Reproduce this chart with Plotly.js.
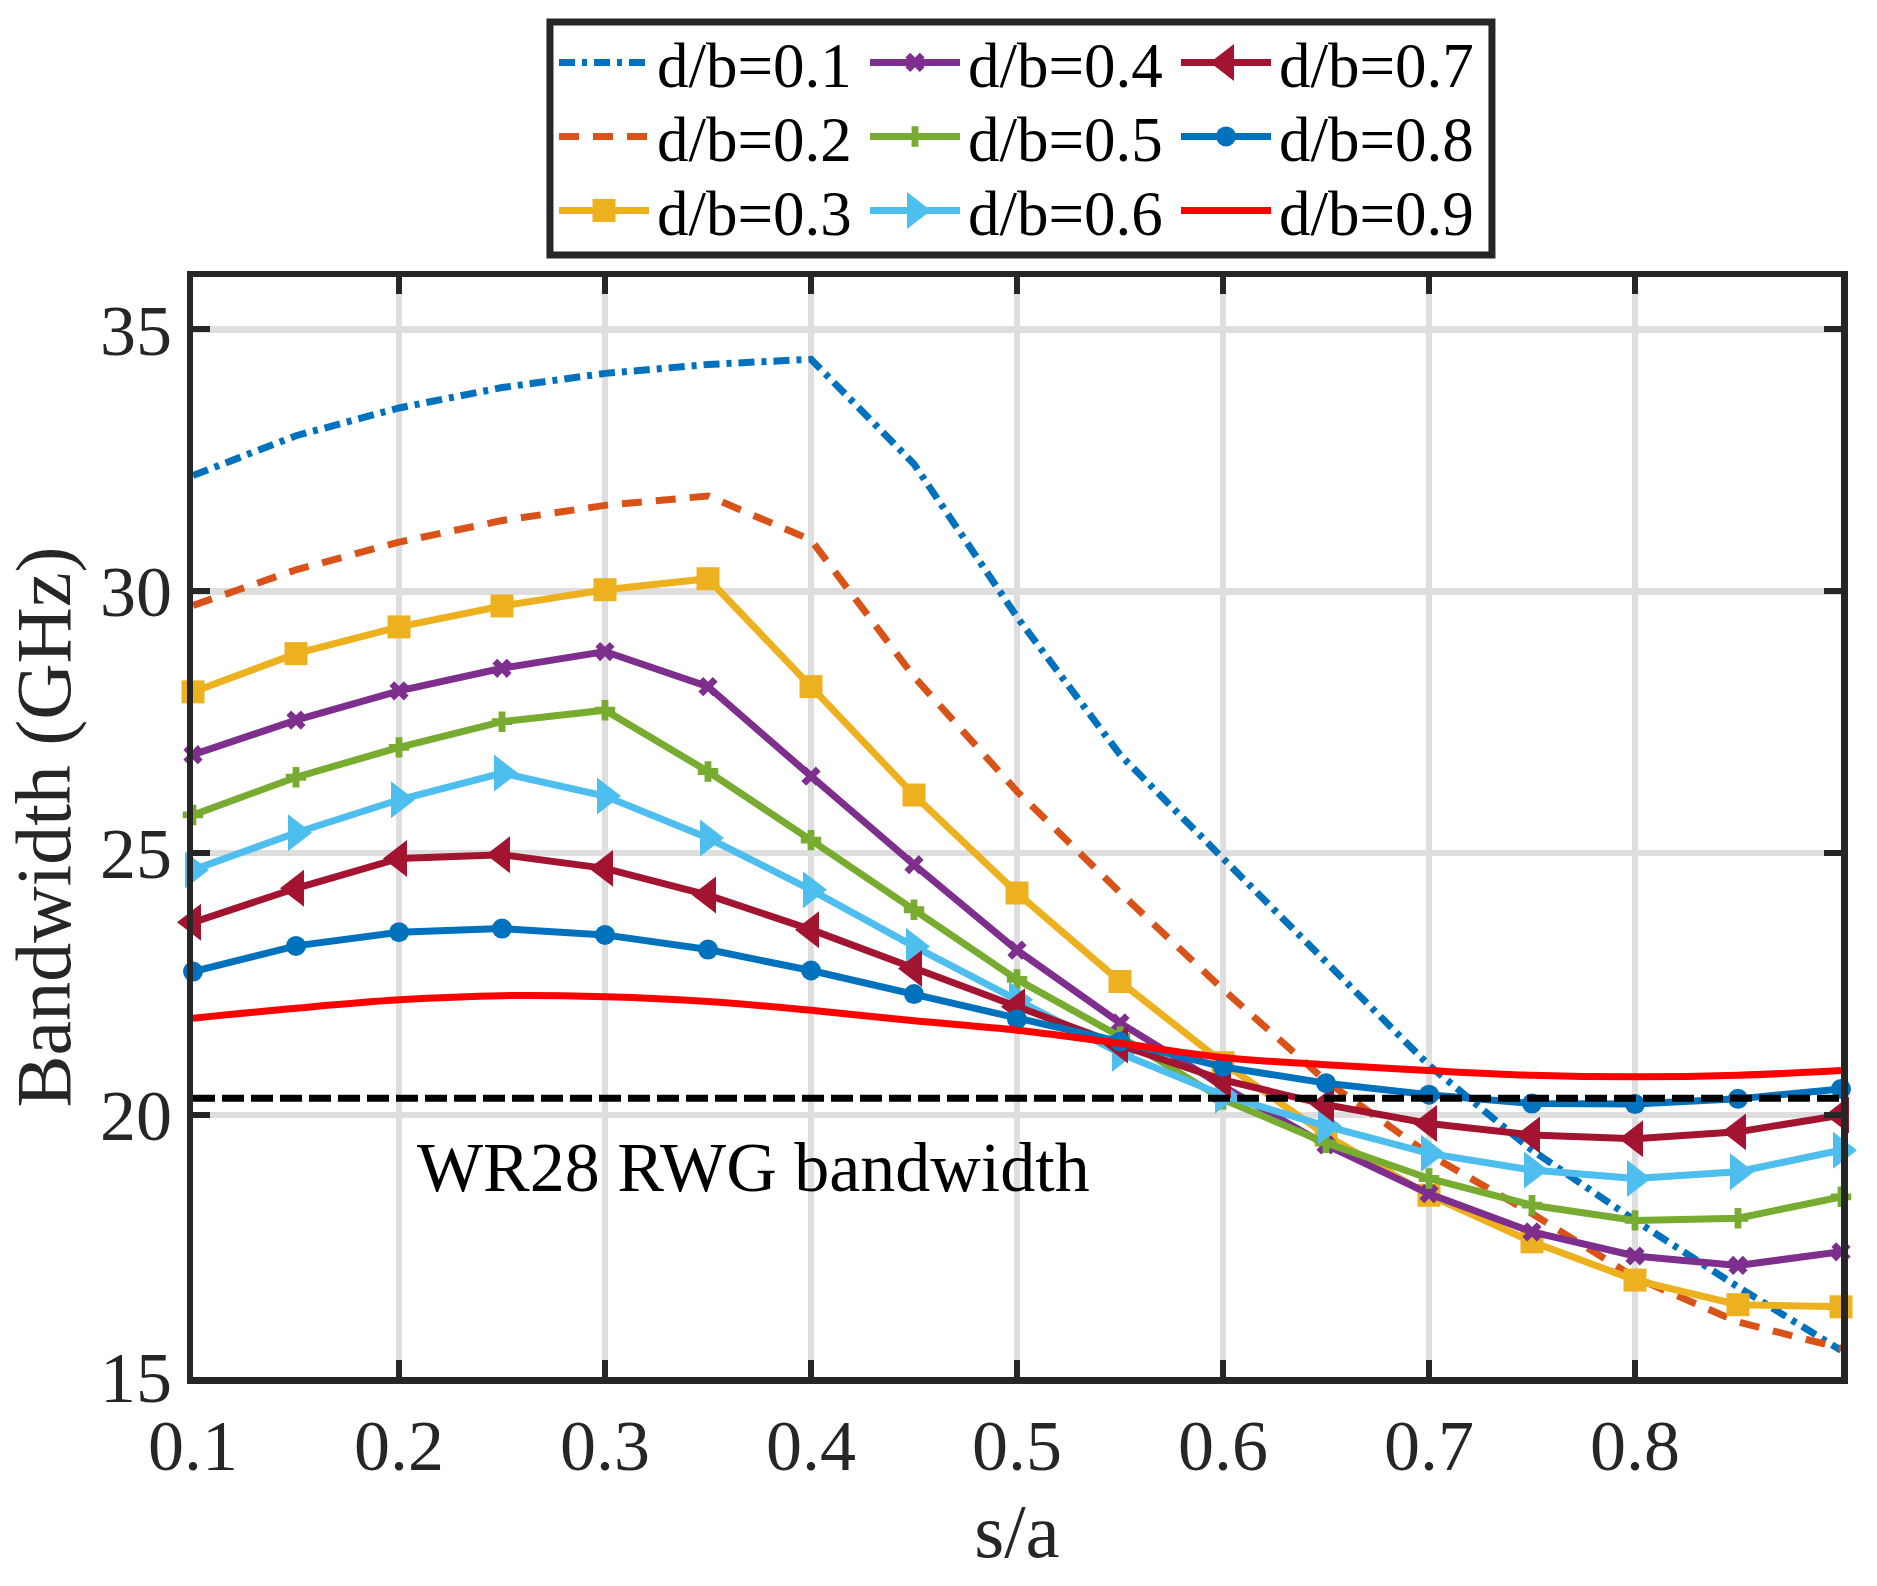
<!DOCTYPE html>
<html>
<head>
<meta charset="utf-8">
<script src="https://cdn.plot.ly/plotly-3.0.1.min.js"></script>
<style>html,body{margin:0;padding:0;background:#fff;}#chart{width:1877px;height:1586px;}</style>
</head>
<body>
<div id="chart"></div>
<script>
// s/a values
var sa = [0.1, 0.15, 0.2, 0.25, 0.3, 0.35, 0.4, 0.45, 0.5, 0.55, 0.6, 0.65, 0.7, 0.75, 0.8, 0.85, 0.9];
// Bandwidth (GHz) for each d/b
var db01 = [32.21, 32.97, 33.50, 33.89, 34.16, 34.33, 34.43, 32.43, 29.51, 26.88, 24.90, 22.92, 20.95, 19.33, 17.99, 16.72, 15.51];
var db02 = [29.73, 30.41, 30.94, 31.35, 31.64, 31.82, 30.98, 28.37, 26.18, 24.25, 22.40, 20.65, 19.25, 18.12, 16.90, 16.05, 15.55];
var db03 = [28.08, 28.81, 29.32, 29.72, 30.03, 30.24, 28.18, 26.11, 24.24, 22.55, 21.00, 19.62, 18.47, 17.58, 16.85, 16.38, 16.34];
var db04 = [26.88, 27.54, 28.10, 28.53, 28.85, 28.18, 26.47, 24.78, 23.15, 21.76, 20.55, 19.43, 18.50, 17.77, 17.31, 17.13, 17.39];
var db05 = [25.73, 26.45, 27.02, 27.51, 27.73, 26.56, 25.25, 23.92, 22.59, 21.50, 20.30, 19.47, 18.79, 18.28, 17.99, 18.03, 18.44];
var db06 = [24.68, 25.39, 26.02, 26.53, 26.09, 25.29, 24.30, 23.22, 22.20, 21.18, 20.38, 19.79, 19.27, 18.95, 18.79, 18.92, 19.33];
var db07 = [23.68, 24.33, 24.90, 24.97, 24.71, 24.20, 23.54, 22.80, 22.07, 21.34, 20.67, 20.20, 19.84, 19.62, 19.55, 19.68, 20.00];
var db08 = [22.74, 23.23, 23.49, 23.56, 23.44, 23.16, 22.76, 22.31, 21.83, 21.40, 20.92, 20.61, 20.39, 20.22, 20.21, 20.31, 20.50];
var db09 = [21.85, 22.04, 22.20, 22.28, 22.26, 22.17, 22.00, 21.80, 21.62, 21.37, 21.10, 20.96, 20.85, 20.76, 20.73, 20.76, 20.85];
// WR28 rectangular waveguide bandwidth reference level
var wr28X = [0.1, 0.9];
var wr28Y = [20.32, 20.32];
var seriesNames = ['d/b=0.1','d/b=0.2','d/b=0.3','d/b=0.4','d/b=0.5','d/b=0.6','d/b=0.7','d/b=0.8','d/b=0.9'];
var xTickVals = [0.1, 0.2, 0.3, 0.4, 0.5, 0.6, 0.7, 0.8];
var xTickText = ['0.1','0.2','0.3','0.4','0.5','0.6','0.7','0.8'];
var yTickVals = [15, 20, 25, 30, 35];
var yTickText = ['15','20','25','30','35'];
var annoText = 'WR28 RWG bandwidth';

var serif = 'Liberation Serif, Times New Roman, serif';
var ink = '#262626';
var allY = [db01, db02, db03, db04, db05, db06, db07, db08, db09];
var styles = [
  {color:'#0072BD', dash:'16px,7px,5px,7px', mode:'lines', legend:'legend'},
  {color:'#D95319', dash:'20px,14px', mode:'lines', legend:'legend'},
  {color:'#EDB120', dash:'solid', mode:'lines+markers', symbol:'square', size:23, legend:'legend'},
  {color:'#7E2F8E', dash:'solid', mode:'lines+markers', symbol:'x', size:17, legend:'legend2'},
  {color:'#77AC30', dash:'solid', mode:'lines+markers', symbol:'cross', size:17, legend:'legend2'},
  {color:'#4DBEEE', dash:'solid', mode:'lines+markers', symbol:'triangle-right', size:32, legend:'legend2'},
  {color:'#A2142F', dash:'solid', mode:'lines+markers', symbol:'triangle-left', size:32, legend:'legend3'},
  {color:'#0072BD', dash:'solid', mode:'lines+markers', symbol:'circle', size:20, legend:'legend3'},
  {color:'#FF0000', dash:'solid', mode:'lines', legend:'legend3', shape:'spline'}
];
var traces = [];
for (var i = 0; i < allY.length; i++) {
  var s = styles[i];
  var t = {
    x: sa, y: allY[i], name: seriesNames[i], type: 'scatter', mode: s.mode,
    line: {color: s.color, width: 7, dash: s.dash, shape: s.shape || 'linear'},
    legend: s.legend, cliponaxis: false
  };
  if (s.symbol) t.marker = {symbol: s.symbol, size: s.size, color: s.color};
  traces.push(t);
}
traces.push({
  x: wr28X, y: wr28Y, type: 'scatter', mode: 'lines', showlegend: false,
  line: {color: '#000000', width: 7, dash: '22px,7px'}, hoverinfo: 'skip'
});

function legendCfg(xp) {
  return {x: xp, y: 1.222, xanchor: 'left', yanchor: 'top', orientation: 'v',
    bgcolor: 'rgba(0,0,0,0)', borderwidth: 0, tracegroupgap: 0, itemwidth: 90,
    font: {family: serif, size: 63, color: '#000'}};
}

var layout = {
  width: 1877, height: 1586,
  margin: {l: 193, r: 36, t: 277, b: 209, autoexpand: false},
  paper_bgcolor: '#ffffff', plot_bgcolor: '#ffffff',
  showlegend: true,
  legend: legendCfg(0.2166),
  legend2: legendCfg(0.4053),
  legend3: legendCfg(0.5940),
  xaxis: {
    range: [0.1, 0.9], tickmode: 'array', tickvals: xTickVals, ticktext: xTickText,
    showgrid: true, gridcolor: '#dedede', gridwidth: 6.5,
    showline: true, linecolor: ink, linewidth: 6.5, mirror: 'ticks',
    ticks: 'inside', ticklen: 17, tickwidth: 6, tickcolor: ink,
    zeroline: false,
    tickfont: {family: serif, size: 72, color: ink},
    title: {text: 's/a', font: {family: serif, size: 77, color: ink}, standoff: 20},
    automargin: false
  },
  yaxis: {
    range: [15, 36], tickmode: 'array', tickvals: yTickVals, ticktext: yTickText,
    showgrid: true, gridcolor: '#dedede', gridwidth: 6.5,
    showline: true, linecolor: ink, linewidth: 6.5, mirror: 'ticks',
    ticks: 'inside', ticklen: 17, tickwidth: 6, tickcolor: ink,
    zeroline: false,
    tickfont: {family: serif, size: 72, color: ink},
    title: {text: 'Bandwidth (GHz)', font: {family: serif, size: 78, color: ink}, standoff: 20},
    automargin: false
  },
  shapes: [{
    type: 'rect', xref: 'paper', yref: 'paper', x0: 0.2166, x1: 0.7882, y0: 1.02, y1: 1.2318,
    line: {color: ink, width: 7}, fillcolor: 'rgba(0,0,0,0)', layer: 'above'
  }],
  annotations: [{
    text: annoText, x: 0.372, y: 19.0, xref: 'x', yref: 'y', showarrow: false,
    xanchor: 'center', yanchor: 'middle',
    font: {family: serif, size: 70, color: '#000'}
  }]
};

// Legend layout refinement: MATLAB-like column/row placement and long sample lines
var legendIds = ['legend', 'legend2', 'legend3'];
var colTextStart = [657, 968, 1279];
var rowTextCenter = [66, 140, 214];
function parseTr(s) {
  var m = /translate\(\s*([-\d.e]+)(?:[ ,]+([-\d.e]+))?\s*\)/.exec(s || '');
  return m ? {x: parseFloat(m[1]), y: parseFloat(m[2] || 0)} : {x: 0, y: 0};
}
function setIfDiff(el, attr, val) {
  if (el.getAttribute(attr) !== val) el.setAttribute(attr, val);
}
function findText(it) {
  var list = it.querySelectorAll('text');
  for (var j = 0; j < list.length; j++) {
    var name = (list[j].textContent || '').trim();
    if (seriesNames.indexOf(name) >= 0) return list[j];
  }
  return null;
}
function fixOne(lg, c, base) {
  var all = lg.querySelectorAll('g.traces');
  var items = [], seen = {};
  Array.prototype.forEach.call(all, function(it) {
    var te = findText(it);
    if (!te) return;
    var si = seriesNames.indexOf((te.textContent || '').trim());
    if (seen[si]) return;
    var r = te.getBoundingClientRect();
    if (!r.width) return;
    seen[si] = true;
    items.push({el: it, te: te, si: si});
  });
  if (!items.length) return;
  items.sort(function(a, b) { return a.si - b.si; });
  var r0 = items[0].te.getBoundingClientRect();
  var tl = r0.left - base.left, tcy = (r0.top + r0.bottom) / 2 - base.top;
  var g = parseTr(lg.getAttribute('transform'));
  var dx = colTextStart[c] - tl, dy = rowTextCenter[0] - tcy;
  if (Math.abs(dx) > 0.5 || Math.abs(dy) > 0.5) {
    lg.setAttribute('transform', 'translate(' + (g.x + dx) + ',' + (g.y + dy) + ')');
  }
  items.forEach(function(obj, k) {
    if (k >= rowTextCenter.length) return;
    var it = obj.el, te = obj.te;
    var r = te.getBoundingClientRect();
    var cy = (r.top + r.bottom) / 2 - base.top;
    var p = parseTr(it.getAttribute('transform'));
    if (Math.abs(rowTextCenter[k] - cy) > 0.5) {
      it.setAttribute('transform', 'translate(' + p.x + ',' + (p.y + rowTextCenter[k] - cy) + ')');
    }
    var local = parseFloat(te.getAttribute('x'));
    if (!isFinite(local)) { try { local = te.getBBox().x; } catch (e) { local = 100; } }
    local = Math.round(local);
    it.querySelectorAll('g.legendlines path').forEach(function(pa) {
      setIfDiff(pa, 'd', 'M' + (local - 98) + ',0h90');
    });
    var st = styles[obj.si] || {};
    var sc = st.size && st.size > 16 ? st.size / 16 : 1;
    it.querySelectorAll('g.legendpoints path.scatterpts').forEach(function(pa) {
      setIfDiff(pa, 'transform', 'translate(' + (local - 53) + ',0) scale(' + sc + ')');
    });
  });
}
function fixLegends(gd) {
  var base = gd.getBoundingClientRect();
  legendIds.forEach(function(id, c) {
    var lgs = gd.querySelectorAll('g.' + id);
    Array.prototype.forEach.call(lgs, function(lg) {
      try { fixOne(lg, c, base); } catch (e) {}
    });
  });
}

var gdEl = document.getElementById('chart');
var runs = 0, pending = false;
function scheduleFix() {
  if (pending || runs > 300) return;
  pending = true;
  Promise.resolve().then(function() { pending = false; runs++; fixLegends(gdEl); });
}
var observer = new MutationObserver(scheduleFix);
observer.observe(gdEl, {subtree: true, childList: true, attributes: true});

Plotly.newPlot(gdEl, traces, layout, {displayModeBar: false, staticPlot: true}).then(function(gd) {
  fixLegends(gd);
  gd.on('plotly_afterplot', function() { fixLegends(gd); });
  requestAnimationFrame(function() { fixLegends(gd); });
  [10, 30, 100, 250, 500, 1000].forEach(function(ms) {
    setTimeout(function() { fixLegends(gd); }, ms);
  });
});
if (document.fonts && document.fonts.ready) document.fonts.ready.then(function() { fixLegends(gdEl); });
window.addEventListener('load', function() { fixLegends(gdEl); });
</script>
</body>
</html>
